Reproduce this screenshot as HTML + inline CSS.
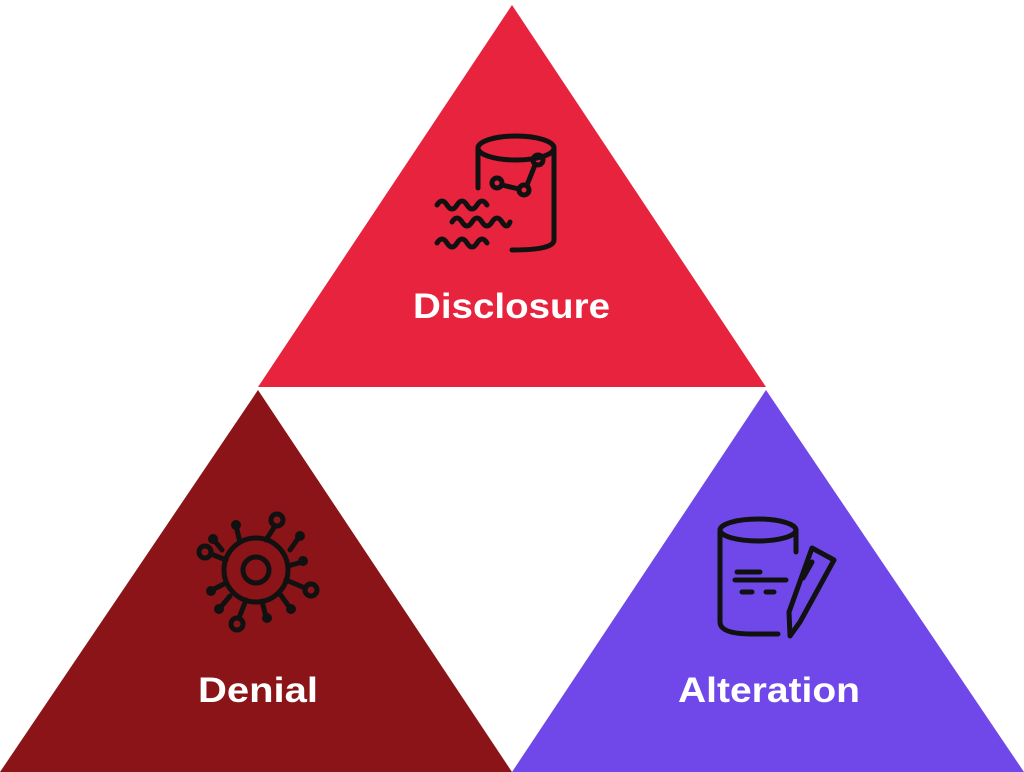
<!DOCTYPE html>
<html><head><style>body{margin:0;background:#fff}svg{display:block}</style></head><body>
<svg width="1024" height="772" viewBox="0 0 1024 772" xmlns="http://www.w3.org/2000/svg">
<polygon points="512,5 766,387 258,387" fill="#E8233D"/>
<polygon points="258,390 512,772 0,772" fill="#8A1417"/>
<polygon points="766,390 1024,772 512,772" fill="#7048EA"/>
<g fill="none" stroke="#111" stroke-width="5" stroke-linecap="round" stroke-linejoin="round">
<ellipse cx="516" cy="148" rx="38" ry="12"/>
<path d="M478,148 V188 M554,148 V240 Q554,250 512,250"/>
<circle cx="497" cy="183" r="5"/><circle cx="524" cy="190" r="5"/><circle cx="538" cy="160" r="5"/>
<path d="M502,185 L519,189 M527,185 L535,165"/>
<path d="M437,205 q5,-8 10,0 q5,8 10,0 q5,-8 10,0 q5,8 10,0 q5,-8 10,0"/>
<path d="M452,222 q5,-8 10,0 q5,8 10,0 q5,-8 10,0 q5,8 10,0 q5,-8 10,0 q5,8 8,0"/>
<path d="M437,243 q5,-8 10,0 q5,8 10,0 q5,-8 10,0 q5,8 10,0 q5,-8 10,0"/>
<circle cx="256" cy="570" r="13"/><circle cx="256" cy="570" r="32"/>
<circle cx="277" cy="520" r="6"/><circle cx="205" cy="552" r="6"/><circle cx="311" cy="590" r="6"/><circle cx="237" cy="624" r="6"/>
<path d="M266,540 L275,526 M226,560 L211,554 M286,580 L305,588 M246,600 L239,618"/>
</g>
<g stroke="#111" stroke-width="5" stroke-linecap="round">
<path d="M240,542 L236,526 M222,550 L214,540 M290,550 L299,537 M288,566 L302,562 M224,584 L212,590 M230,596 L220,608 M262,601 L266,617 M280,594 L290,608"/>
</g>
<g fill="#111"><circle cx="236" cy="525" r="5"/><circle cx="213" cy="539" r="5"/><circle cx="300" cy="536" r="5"/><circle cx="303" cy="561" r="5"/><circle cx="211" cy="591" r="5"/><circle cx="219" cy="609" r="5"/><circle cx="267" cy="618" r="5"/><circle cx="291" cy="609" r="5"/></g>
<g fill="none" stroke="#111" stroke-width="5" stroke-linecap="round" stroke-linejoin="round">
<ellipse cx="758" cy="530" rx="38" ry="11"/>
<path d="M720,530 V622 Q720,634 752,634 H778 M796,530 V552"/>
<path d="M737,572 H760 M735,580 H786 M742,592 H752 M766,592 H774"/>
<path d="M812,548 L834,560 L800,622 L790,636 L789,612 Z M812,562 L803,578"/>
</g>
<g font-family="Liberation Sans, sans-serif" font-weight="bold" font-size="35" fill="#fff">
<text x="413" y="318" textLength="197" lengthAdjust="spacingAndGlyphs">Disclosure</text>
<text x="198" y="702" textLength="120" lengthAdjust="spacingAndGlyphs">Denial</text>
<text x="678" y="702" textLength="182" lengthAdjust="spacingAndGlyphs">Alteration</text>
</g>
</svg>
</body></html>
